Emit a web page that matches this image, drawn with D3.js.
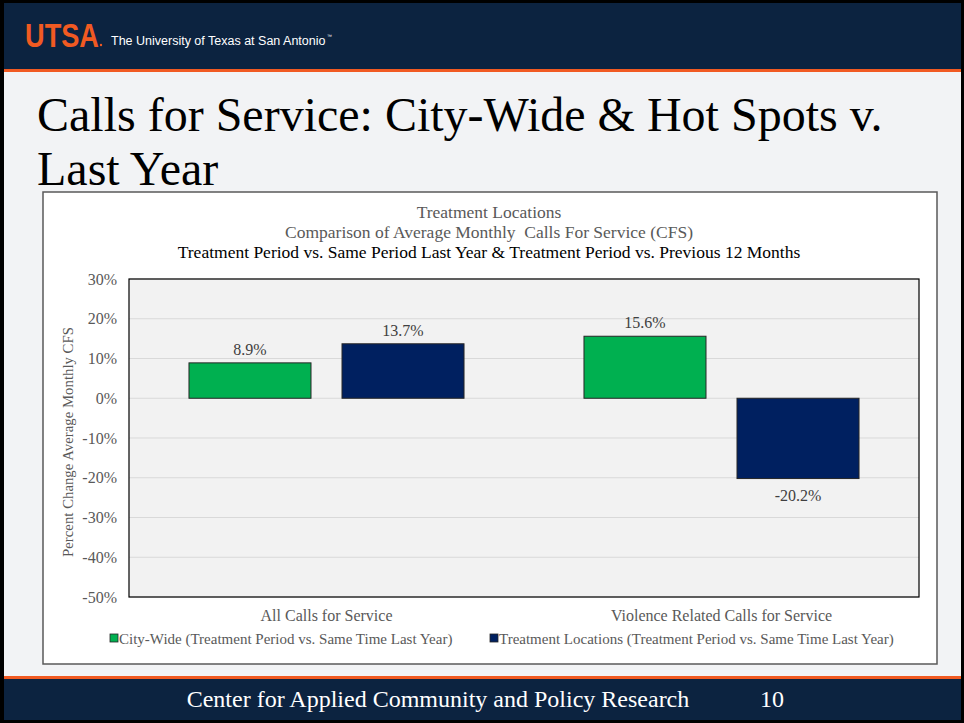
<!DOCTYPE html>
<html><head><meta charset="utf-8">
<script src="https://cdn.jsdelivr.net/npm/d3@7"></script>
<style>html,body{margin:0;padding:0;background:#fff;}svg{display:block;}</style>
</head><body>
<script>
const categories = ["All Calls for Service", "Violence Related Calls for Service"];
const seriesNames = ["City-Wide (Treatment Period vs. Same Time Last Year)", "Treatment Locations (Treatment Period vs. Same Time Last Year)"];
const cityWide = [8.9, 15.6];
const treatmentLocations = [13.7, -20.2];
const yTicks = [30, 20, 10, 0, -10, -20, -30, -40, -50];
const colors = ["#00b050", "#002060"];

const W = 964, H = 723;
const svg = d3.select("body").append("svg").attr("width", W).attr("height", H);
const serif = "'Liberation Serif','Times New Roman',serif";
const sans = "'Liberation Sans',Arial,sans-serif";

// slide background
svg.append("rect").attr("width", W).attr("height", H).attr("fill", "#000");
svg.append("rect").attr("x", 4).attr("y", 3).attr("width", W - 7).attr("height", H - 6).attr("fill", "#f2f3f5");
// header
svg.append("rect").attr("x", 4).attr("y", 3).attr("width", W - 7).attr("height", 66).attr("fill", "#0c2340");
svg.append("rect").attr("x", 4).attr("y", 69).attr("width", W - 7).attr("height", 3).attr("fill", "#f15a22");
svg.append("text").attr("x", 25).attr("y", 47).attr("font-family", sans)
  .attr("font-weight", "bold").attr("font-size", 33).attr("fill", "#f15a22")
  .attr("textLength", 74).attr("lengthAdjust", "spacingAndGlyphs").text("UTSA");
svg.append("circle").attr("cx", 101).attr("cy", 45).attr("r", 1.2).attr("fill", "#f15a22");
svg.append("text").attr("x", 111).attr("y", 45).attr("font-family", sans)
  .attr("font-size", 12.5).attr("fill", "#fff").text("The University of Texas at San Antonio");
svg.append("text").attr("x", 327).attr("y", 38).attr("font-family", sans)
  .attr("font-size", 5).attr("fill", "#fff").text("™");
// footer
svg.append("rect").attr("x", 4).attr("y", 676).attr("width", W - 7).attr("height", 3).attr("fill", "#f15a22");
svg.append("rect").attr("x", 4).attr("y", 679).attr("width", W - 7).attr("height", 41).attr("fill", "#0c2340");
svg.append("text").attr("x", 438).attr("y", 707).attr("text-anchor", "middle").attr("font-family", serif)
  .attr("font-size", 24).attr("fill", "#fff").text("Center for Applied Community and Policy Research");
svg.append("text").attr("x", 772).attr("y", 707).attr("text-anchor", "middle").attr("font-family", serif)
  .attr("font-size", 24).attr("fill", "#fff").text("10");
// slide title
svg.append("text").attr("x", 37).attr("y", 131).attr("font-family", serif).attr("font-size", 48).attr("fill", "#000")
  .text("Calls for Service: City-Wide & Hot Spots v.");
svg.append("text").attr("x", 37).attr("y", 185).attr("font-family", serif).attr("font-size", 48).attr("fill", "#000")
  .text("Last Year");

// chart box
svg.append("rect").attr("x", 43).attr("y", 192).attr("width", 894).attr("height", 472)
  .attr("fill", "#fff").attr("stroke", "#595959").attr("stroke-width", 1.5);

svg.append("text").attr("x", 489).attr("y", 218).attr("text-anchor", "middle").attr("font-family", serif)
  .attr("font-size", 17.5).attr("fill", "#595959").text("Treatment Locations");
svg.append("text").attr("x", 489).attr("y", 238).attr("text-anchor", "middle").attr("font-family", serif)
  .attr("font-size", 17.5).attr("fill", "#595959").style("white-space", "pre")
  .text("Comparison of Average Monthly  Calls For Service (CFS)");
svg.append("text").attr("x", 489).attr("y", 258).attr("text-anchor", "middle").attr("font-family", serif)
  .attr("font-size", 17.5).attr("fill", "#000").text("Treatment Period vs. Same Period Last Year & Treatment Period vs. Previous 12 Months");

// plot area
const px0 = 129, px1 = 919, py0 = 279, py1 = 597;
const y = d3.scaleLinear().domain([-50, 30]).range([py1, py0]);
const x0 = d3.scaleBand().domain(categories).range([px0, px1]).paddingInner(0).paddingOuter(0);
const x1 = d3.scaleBand().domain([0, 1]).range([0, x0.bandwidth()]).paddingInner(0.2026).paddingOuter(0.392);

svg.append("rect").attr("x", px0).attr("y", py0).attr("width", px1 - px0).attr("height", py1 - py0).attr("fill", "#f2f2f2");
svg.append("g").selectAll("line").data(yTicks).join("line")
  .attr("x1", px0).attr("x2", px1).attr("y1", d => y(d)).attr("y2", d => y(d))
  .attr("stroke", "#d9d9d9").attr("stroke-width", 1);

const yAxis = svg.append("g").attr("transform", `translate(${px0},0)`)
  .call(d3.axisLeft(y).tickValues(yTicks).tickFormat(d => d + "%").tickSize(0).tickPadding(12));
yAxis.select(".domain").remove();
yAxis.selectAll("text").attr("font-family", serif).attr("font-size", 16).attr("fill", "#595959");

const data = categories.map((c, i) => [cityWide[i], treatmentLocations[i]]);
const groups = svg.append("g").selectAll("g").data(data).join("g")
  .attr("transform", (d, i) => `translate(${x0(categories[i])},0)`);
groups.selectAll("rect").data(d => d).join("rect")
  .attr("x", (d, j) => x1(j)).attr("width", x1.bandwidth())
  .attr("y", d => y(Math.max(0, d))).attr("height", d => Math.abs(y(d) - y(0)))
  .attr("fill", (d, j) => colors[j]).attr("stroke", "#262626").attr("stroke-width", 1);
groups.selectAll("text").data(d => d).join("text")
  .attr("x", (d, j) => x1(j) + x1.bandwidth() / 2)
  .attr("y", d => d >= 0 ? y(d) - 8 : y(d) + 22)
  .attr("text-anchor", "middle").attr("font-family", serif).attr("font-size", 16).attr("fill", "#404040")
  .text(d => d.toFixed(1) + "%");

svg.append("rect").attr("x", px0).attr("y", py0).attr("width", px1 - px0).attr("height", py1 - py0)
  .attr("fill", "none").attr("stroke", "#000").attr("stroke-width", 1.2);

// category labels
svg.append("g").selectAll("text").data(categories).join("text")
  .attr("x", d => x0(d) + x0.bandwidth() / 2).attr("y", 621).attr("text-anchor", "middle")
  .attr("font-family", serif).attr("font-size", 16).attr("fill", "#595959").text(d => d);

// y-axis title
svg.append("text").attr("transform", `translate(73,442) rotate(-90)`).attr("text-anchor", "middle")
  .attr("font-family", serif).attr("font-size", 14.8).attr("fill", "#595959").text("Percent Change Average Monthly CFS");

// legend
const legX = [110, 490];
const leg = svg.append("g").selectAll("g").data(seriesNames).join("g")
  .attr("transform", (d, i) => `translate(${legX[i]},644)`);
leg.append("rect").attr("x", 0).attr("y", -10).attr("width", 8).attr("height", 8)
  .attr("fill", (d, i) => colors[i]).attr("stroke", "#262626").attr("stroke-width", 0.8);
leg.append("text").attr("x", 9).attr("y", 0).attr("font-family", serif).attr("font-size", 15)
  .attr("fill", "#595959").text(d => d);
</script>
</body></html>
